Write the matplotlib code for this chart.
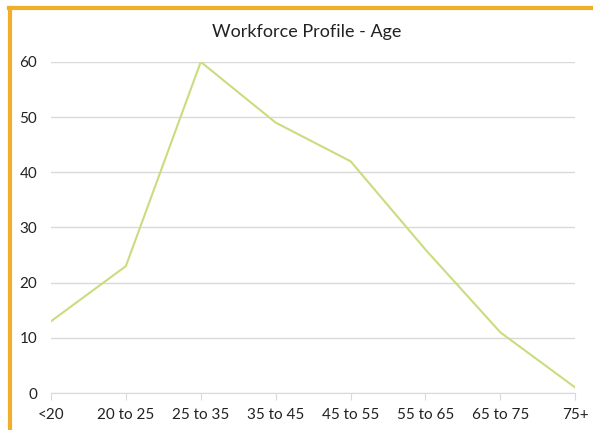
import matplotlib
matplotlib.use("Agg")
import matplotlib.pyplot as plt
from matplotlib.lines import Line2D

# Data
categories = ["<20", "20 to 25", "25 to 35", "35 to 45", "45 to 55", "55 to 65", "65 to 75", "75+"]
counts = [13, 23, 60, 49, 42, 26, 11, 1]
yticks = [0, 10, 20, 30, 40, 50, 60]

plt.rcParams["font.family"] = ["Lato", "DejaVu Sans"]

fig = plt.figure(figsize=(5.93, 4.30), dpi=100)
ax = fig.add_axes([0.086, 0.086, 0.884, 0.770])

x = list(range(len(categories)))
ax.plot(x, counts, color="#C9DD80", lw=1.5, zorder=3)

ax.set_xlim(0, len(categories) - 1)
ax.set_ylim(0, 60)
ax.set_yticks(yticks)
ax.set_xticks(x)
ax.set_xticklabels(categories)
ax.grid(axis="y", color="#D9D9D9", lw=1)
ax.set_axisbelow(True)

for s in ["top", "right", "left"]:
    ax.spines[s].set_visible(False)
ax.spines["bottom"].set_color("#D9D9D9")
ax.tick_params(axis="y", length=0, pad=10, labelsize=11, labelcolor="#222222")
ax.tick_params(axis="x", length=5, color="#D9D9D9", pad=6, labelsize=11, labelcolor="#222222")

fig.text(0.518, 0.925, "Workforce Profile - Age", ha="center", va="center",
         fontsize=13, color="#222222")

# orange frame on left and top
fig.add_artist(Line2D([0.0175, 0.0175], [0, 0.981], transform=fig.transFigure,
                      color="#F0AE2A", lw=3))
fig.add_artist(Line2D([0.0150, 1.0], [0.981, 0.981], transform=fig.transFigure,
                      color="#F0AE2A", lw=3))

fig.savefig("out.png", dpi=100)
